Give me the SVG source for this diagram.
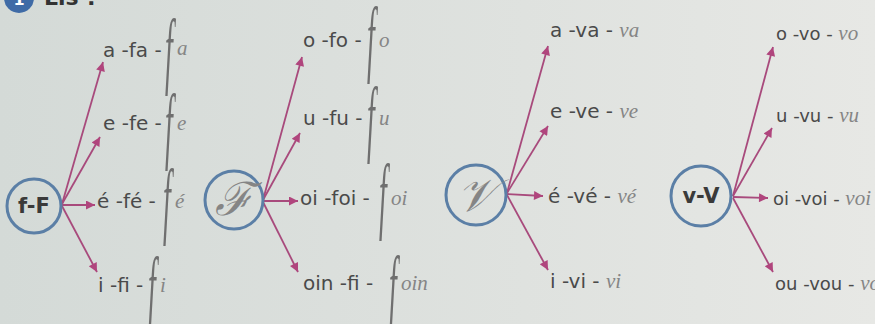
<svg xmlns="http://www.w3.org/2000/svg" width="875" height="324" viewBox="0 0 875 324">
<defs>
<linearGradient id="bg" x1="0" y1="0" x2="1" y2="0">
<stop offset="0" stop-color="#d4dad7"/>
<stop offset="0.6" stop-color="#dfe2df"/>
<stop offset="1" stop-color="#e7e8e5"/>
</linearGradient>
<marker id="ah" viewBox="0 0 10 10" refX="10" refY="5" markerWidth="11" markerHeight="9" markerUnits="userSpaceOnUse" orient="auto">
<path d="M0,0 L10,5 L0,10 Z" fill="#b0457d"/>
</marker>
<style>
.hub{fill:none;stroke:#5b7fa6;stroke-width:3}
.lbl{font-family:"DejaVu Sans",sans-serif;font-size:20px;fill:#4a4a4a}
.sm{font-size:18px}
.hubt{font-family:"DejaVu Sans",sans-serif;font-size:21px;font-weight:bold;fill:#3a3a3a}
.scr{font-family:"Liberation Serif",serif;font-style:italic;font-size:21px;fill:#858585}
.lf{font-family:"Liberation Serif",serif;font-style:italic;font-size:28px;fill:#6f6f6f}
.big{font-family:"Liberation Serif",serif;font-style:italic;font-size:46px;fill:#858585}
.cn line{stroke:#a84a7c;stroke-width:1.8;marker-end:url(#ah)}
</style>
</defs>
<rect width="875" height="324" fill="url(#bg)"/>
<g id="header">
<circle cx="19" cy="-2" r="15" fill="#3f6ba6"/>
<text x="19" y="5" text-anchor="middle" font-family="DejaVu Sans,sans-serif" font-size="16" font-weight="bold" fill="#fff">1</text>
<text x="44" y="5" font-family="DejaVu Sans,sans-serif" font-size="22" font-weight="bold" fill="#333">Lis !</text>
</g>
<g class="cn" id="connectors">
<line x1="62" y1="204" x2="103" y2="62"/>
<line x1="62" y1="204" x2="100" y2="137"/>
<line x1="62" y1="205" x2="95" y2="205"/>
<line x1="62" y1="206" x2="97" y2="272"/>
<line x1="263" y1="200" x2="302" y2="57"/>
<line x1="263" y1="200" x2="300" y2="133"/>
<line x1="263" y1="201" x2="298" y2="201"/>
<line x1="263" y1="202" x2="298" y2="272"/>
<line x1="507" y1="193" x2="548" y2="46"/>
<line x1="507" y1="193" x2="548" y2="126"/>
<line x1="507" y1="194" x2="543" y2="196"/>
<line x1="507" y1="195" x2="548" y2="270"/>
<line x1="733" y1="196" x2="773" y2="47"/>
<line x1="733" y1="196" x2="772" y2="128"/>
<line x1="733" y1="197" x2="768" y2="198"/>
<line x1="733" y1="198" x2="773" y2="272"/>
</g>
<g id="hub-fF"><circle class="hub" cx="34" cy="206" r="27"/><text class="hubt" x="34" y="213" text-anchor="middle">f-F</text></g>
<g id="hub-scriptF"><circle class="hub" cx="234" cy="200" r="29"/><text class="big" x="234" y="215" text-anchor="middle">ℱ</text></g>
<g id="hub-scriptV"><circle class="hub" cx="476" cy="195" r="30"/><text class="big" x="476" y="211" text-anchor="middle">𝒱</text></g>
<g id="hub-vV"><circle class="hub" cx="701" cy="196" r="30"/><text class="hubt" x="701" y="203" text-anchor="middle">v-V</text></g>

<g id="fa"><text class="lbl" x="103" y="57">a -fa -</text><text class="lf" transform="translate(165,78) scale(1,3)">f</text><text class="scr" x="177" y="55">a</text></g>
<g id="fe"><text class="lbl" x="103" y="130">e -fe -</text><text class="lf" transform="translate(165,153) scale(1,3)">f</text><text class="scr" x="177" y="130">e</text></g>
<g id="fé"><text class="lbl" x="97" y="208">é -fé -</text><text class="lf" transform="translate(163,228) scale(1,3)">f</text><text class="scr" x="175" y="208">é</text></g>
<g id="fi"><text class="lbl" x="98" y="292">i -fi -</text><text class="lf" transform="translate(148,316) scale(1,3)">f</text><text class="scr" x="160" y="292">i</text></g>

<g id="fo"><text class="lbl" x="303" y="47">o -fo -</text><text class="lf" transform="translate(367,66) scale(1,3)">f</text><text class="scr" x="379" y="47">o</text></g>
<g id="fu"><text class="lbl" x="303" y="125">u -fu -</text><text class="lf" transform="translate(367,146) scale(1,3)">f</text><text class="scr" x="379" y="125">u</text></g>
<g id="foi"><text class="lbl" x="300" y="205">oi -foi -</text><text class="lf" transform="translate(379,223) scale(1,3)">f</text><text class="scr" x="391" y="205">oi</text></g>
<g id="foin"><text class="lbl" x="303" y="290">oin -fi  -</text><text class="lf" transform="translate(389,315) scale(1,3)">f</text><text class="scr" x="401" y="290">oin</text></g>

<g id="va"><text class="lbl" x="550" y="37">a -va - <tspan class="scr">va</tspan></text></g>
<g id="ve"><text class="lbl" x="550" y="118">e -ve - <tspan class="scr">ve</tspan></text></g>
<g id="vé"><text class="lbl" x="548" y="203">é -vé - <tspan class="scr">vé</tspan></text></g>
<g id="vi"><text class="lbl" x="550" y="288">i -vi - <tspan class="scr">vi</tspan></text></g>

<g id="vo"><text class="lbl sm" x="776" y="40">o -vo - <tspan class="scr">vo</tspan></text></g>
<g id="vu"><text class="lbl sm" x="776" y="122">u -vu - <tspan class="scr">vu</tspan></text></g>
<g id="voi"><text class="lbl sm" x="773" y="205">oi -voi - <tspan class="scr">voi</tspan></text></g>
<g id="vou"><text class="lbl sm" x="775" y="290">ou -vou - <tspan class="scr">vou</tspan></text></g>
</svg>
